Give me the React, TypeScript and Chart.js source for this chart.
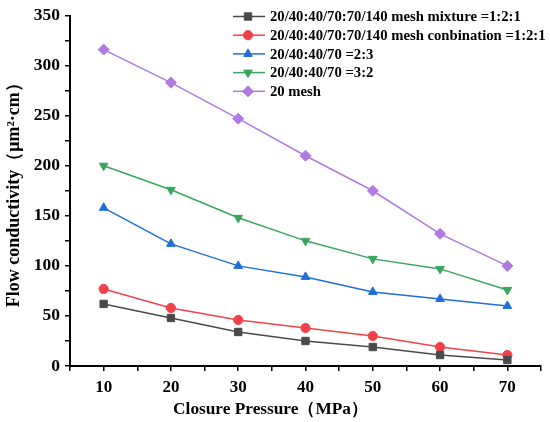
import React, { useEffect, useRef } from "react";
import { Chart, registerables } from "chart.js";

Chart.register(...registerables);

const pressures = [10, 20, 30, 40, 50, 60, 70];
const seriesNames = [
  "20/40:40/70:70/140 mesh mixture =1:2:1",
  "20/40:40/70:70/140 mesh conbination =1:2:1",
  "20/40:40/70 =2:3",
  "20/40:40/70 =3:2",
  "20 mesh",
];
const mixture = [62, 48, 34, 25, 19, 11, 6];
const combination = [77, 58, 46, 38, 30, 19, 11];
const ratio23 = [158, 122, 100, 89, 74, 67, 60];
const ratio32 = [200, 176, 148, 125, 107, 97, 76];
const mesh20 = [316, 283, 247, 210, 175, 132, 100];
const xTitle = "Closure Pressure（MPa）";
const yTitle = "Flow conductivity（μm²·cm）";

const colors = ["#4a4a4a", "#f0424a", "#1f6fd6", "#3aa55e", "#b07ae0"];
const styles = ["rect", "circle", "triangle", "triangle", "rectRot"];
const rotations = [0, 0, 0, 180, 0];
const radii = [5.2, 4.6, 5, 5, 5.5];

const FONT = "'Liberation Serif', 'Times New Roman', serif";

function drawMarker(ctx: CanvasRenderingContext2D, style: string, x: number, y: number, r: number, rot: number, color: string) {
  ctx.save();
  ctx.translate(x, y);
  ctx.rotate((rot * Math.PI) / 180);
  ctx.fillStyle = color;
  ctx.strokeStyle = color;
  ctx.lineWidth = 1;
  ctx.beginPath();
  if (style === "rect") {
    const s = r / Math.SQRT2;
    ctx.rect(-s, -s, 2 * s, 2 * s);
  } else if (style === "circle") {
    ctx.arc(0, 0, r, 0, Math.PI * 2);
  } else if (style === "triangle") {
    ctx.moveTo(0, -r);
    ctx.lineTo(r * Math.cos(Math.PI / 6), r * Math.sin(Math.PI / 6));
    ctx.lineTo(-r * Math.cos(Math.PI / 6), r * Math.sin(Math.PI / 6));
    ctx.closePath();
  } else if (style === "rectRot") {
    ctx.moveTo(0, -r);
    ctx.lineTo(r, 0);
    ctx.lineTo(0, r);
    ctx.lineTo(-r, 0);
    ctx.closePath();
  }
  ctx.fill();
  ctx.stroke();
  ctx.restore();
}

const legendPlugin = {
  id: "customLegend",
  afterDraw(chart: any) {
    const ctx: CanvasRenderingContext2D = chart.ctx;
    const area = chart.chartArea;
    const x0 = area.left + 163;
    const y0 = area.top + 1;
    const rowH = 18.7;
    ctx.save();
    ctx.font = `bold 14.7px ${FONT}`;
    ctx.textBaseline = "middle";
    ctx.fillStyle = "#000";
    chart.data.datasets.forEach((ds: any, i: number) => {
      const y = y0 + i * rowH;
      ctx.strokeStyle = colors[i];
      ctx.lineWidth = 1.5;
      ctx.beginPath();
      ctx.moveTo(x0, y);
      ctx.lineTo(x0 + 32, y);
      ctx.stroke();
      drawMarker(ctx, styles[i], x0 + 15, y, radii[i], rotations[i], colors[i]);
      ctx.fillStyle = "#000";
      ctx.fillText(ds.label, x0 + 37, y + 1);
    });
    ctx.restore();
  },
};

export default function App() {
  const ref = useRef<HTMLCanvasElement | null>(null);
  useEffect(() => {
    document.body.style.margin = "0";
    if (!ref.current) return;
    const values = [mixture, combination, ratio23, ratio32, mesh20];
    const chart = new Chart(ref.current, {
      type: "line",
      data: {
        datasets: values.map((vals, i) => ({
          label: seriesNames[i],
          data: pressures.map((p, j) => ({ x: p, y: vals[j] })),
          borderColor: colors[i],
          backgroundColor: colors[i],
          pointBackgroundColor: colors[i],
          pointBorderColor: colors[i],
          pointStyle: styles[i] as any,
          pointRotation: rotations[i],
          pointRadius: radii[i],
          pointBorderWidth: 1,
          borderWidth: 1.5,
          tension: 0,
        })),
      },
      options: {
        animation: false,
        responsive: false,
        devicePixelRatio: 1,
        layout: { padding: { top: 15, right: 9, left: 0, bottom: 0 } },
        plugins: {
          legend: { display: false },
          tooltip: { enabled: false },
          title: {
            display: true,
            position: "bottom",
            text: xTitle,
            color: "#000",
            font: { family: FONT, size: 17.3, weight: "bold" },
            padding: { top: 0, bottom: 2 },
          },
        },
        scales: {
          x: {
            type: "linear",
            min: 5,
            max: 75,
            afterFit: (s: any) => {
              s.height = 33.2;
            },
            ticks: {
              stepSize: 5,
              autoSkip: false,
              maxRotation: 0,
              color: "#000",
              padding: 6,
              font: { family: FONT, size: 17, weight: "bold" },
              callback: (v: any) => (Number(v) % 10 === 0 ? String(v) : ""),
            },
            grid: { drawOnChartArea: false, drawTicks: true, tickLength: 5, color: "#000", lineWidth: 1.5 },
            border: { color: "#000", width: 2 },
          },
          y: {
            min: 0,
            max: 350,
            afterFit: (s: any) => {
              s.width = 70;
            },
            ticks: {
              stepSize: 25,
              autoSkip: false,
              color: "#000",
              padding: 5,
              font: { family: FONT, size: 17.5, weight: "bold" },
              callback: (v: any) => (Number(v) % 50 === 0 ? String(v) : ""),
            },
            title: {
              display: true,
              text: yTitle,
              color: "#000",
              font: { family: FONT, size: 18, weight: "bold" },
              padding: { top: 4, bottom: 0 },
            },
            grid: { drawOnChartArea: false, drawTicks: true, tickLength: 5, color: "#000", lineWidth: 1.5 },
            border: { color: "#000", width: 2 },
          },
        },
      },
      plugins: [legendPlugin],
    });
    return () => chart.destroy();
  }, []);
  return (
    <div style={{ width: 550, height: 422, background: "#fff" }}>
      <canvas ref={ref} width={550} height={422} style={{ display: "block" }} />
    </div>
  );
}
